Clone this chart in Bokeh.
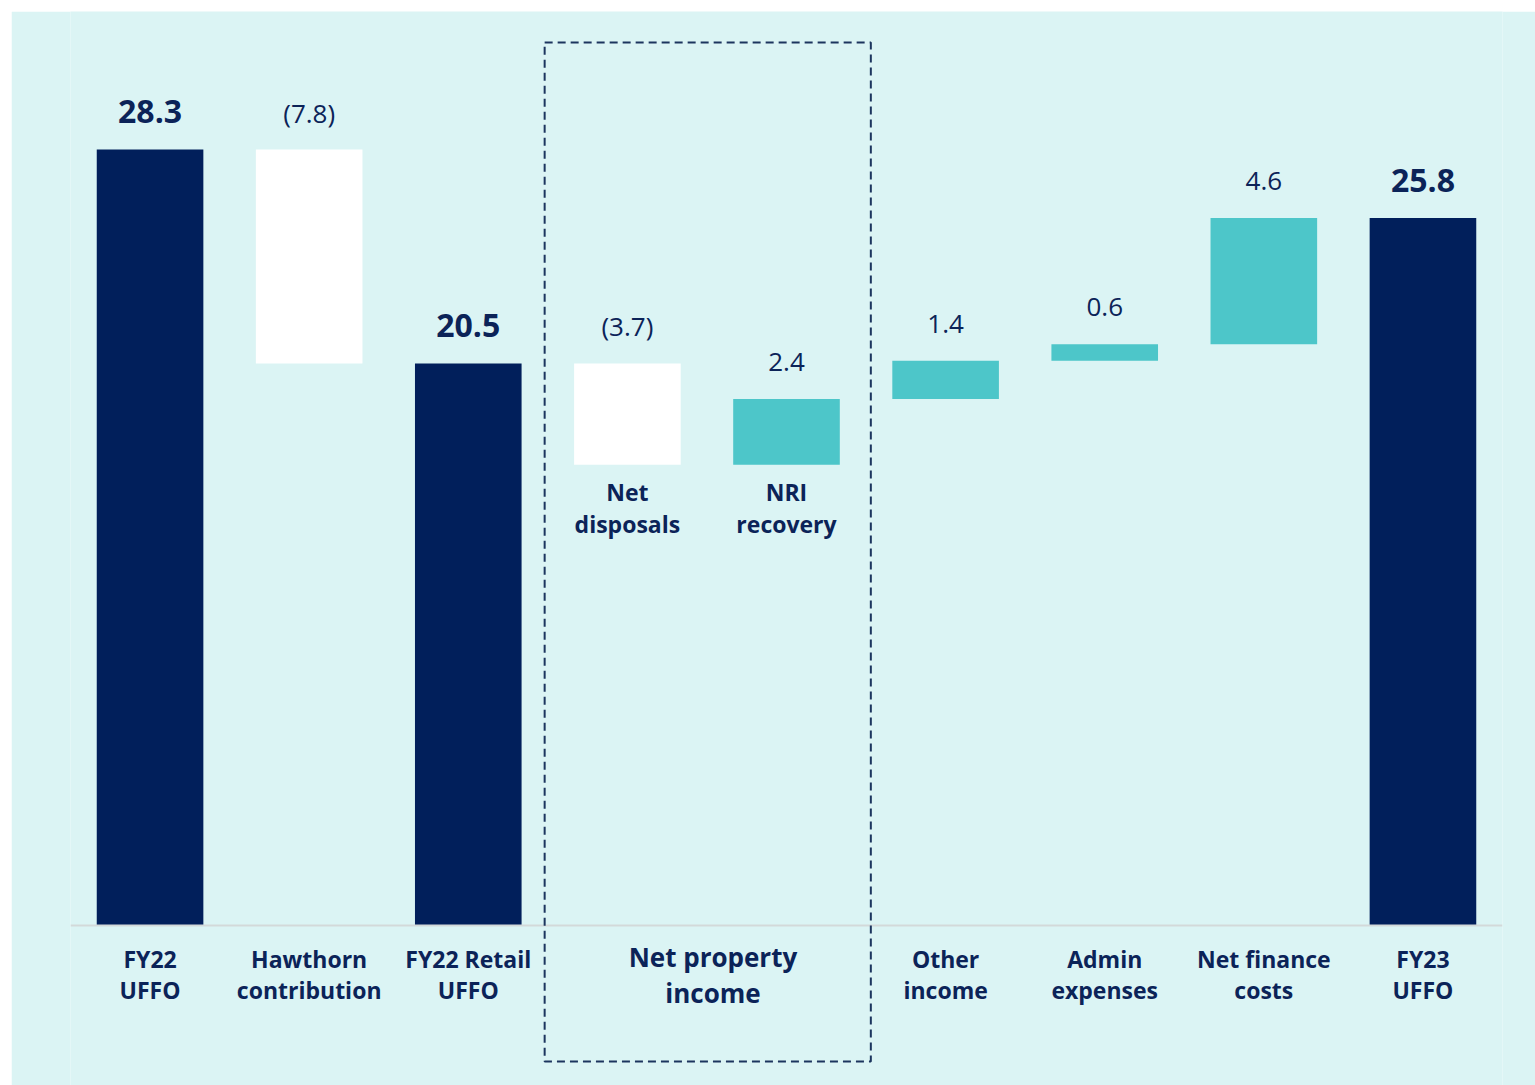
from bokeh.plotting import figure
from bokeh.models import Range1d, ColumnDataSource, BoxAnnotation, Span
from bokeh.core.properties import value
from bokeh.embed import file_html
from bokeh.resources import INLINE

# ---- data ----
categories = ["FY22\nUFFO", "Hawthorn\ncontribution", "FY22 Retail\nUFFO", "Net\ndisposals",
              "NRI\nrecovery", "Other\nincome", "Admin\nexpenses", "Net finance\ncosts", "FY23\nUFFO"]
kinds = ["total", "change", "total", "change", "change", "change", "change", "change", "total"]
values = [28.3, -7.8, 20.5, -3.7, 2.4, 1.4, 0.6, 4.6, 25.8]
value_labels = ["28.3", "(7.8)", "20.5", "(3.7)", "2.4", "1.4", "0.6", "4.6", "25.8"]
group_label = "Net property\nincome"
group_members = [3, 4]

# ---- styles ----
BG = "#dbf4f4"
NAVY = "#011f5b"
TEAL = "#4dc6c9"
WHITE = "#ffffff"
TEXT = "#0b2358"
FONT = value("Open Sans")

# ---- waterfall geometry from data ----
xs = list(range(len(categories)))
lows, highs, colors = [], [], []
level = 0.0
for k, v in zip(kinds, values):
    if k == "total":
        lo, hi = 0.0, v
        level = v
        colors.append(NAVY)
    else:
        start, end = level, level + v
        lo, hi = min(start, end), max(start, end)
        level = end
        colors.append(TEAL if v > 0 else WHITE)
    lows.append(lo)
    highs.append(hi)

p = figure(width=1524, height=1074, x_range=Range1d(-0.5, 8.5), y_range=Range1d(-5.835, 33.333),
           output_backend="svg", toolbar_location=None, x_axis_location=None, y_axis_location=None,
           min_border_left=59, min_border_right=33, min_border_top=0, min_border_bottom=0,
           background_fill_color=BG, border_fill_color=BG, outline_line_color=None,
           margin=(11, 0, 0, 11))
p.grid.visible = False

bars = ColumnDataSource(dict(x=xs, bottom=lows, top=highs, color=colors))
p.vbar(x="x", bottom="bottom", top="top", width=0.67, fill_color="color", line_color=None, source=bars)

# baseline
p.add_layout(Span(location=0, dimension="width", line_color="#d3d9d9", line_width=2))

# dashed group box
p.add_layout(BoxAnnotation(left=2.48, right=4.53, top=32.2, bottom=-4.96, fill_alpha=0,
                           line_color="#1c355e", line_alpha=1.0, line_width=2, line_dash="8 5"))

# value labels
tot = [i for i, k in enumerate(kinds) if k == "total"]
chg = [i for i, k in enumerate(kinds) if k != "total"]
p.text(x=[xs[i] for i in tot], y=[highs[i] for i in tot], text=[value_labels[i] for i in tot],
       text_align="center", text_baseline="alphabetic", y_offset=-38, text_font=FONT,
       text_font_size="32px", text_font_style="bold", text_color=TEXT)
p.text(x=[xs[i] for i in chg], y=[highs[i] for i in chg], text=[value_labels[i] for i in chg],
       text_align="center", text_baseline="alphabetic", y_offset=-37, text_font=FONT,
       text_font_size="26px", text_color=TEXT)

# category labels
outer = [i for i in xs if i not in group_members]
p.text(x=[xs[i] for i in outer], y=[0] * len(outer), text=[categories[i] for i in outer],
       text_align="center", text_baseline="middle", y_offset=49, text_font=FONT,
       text_font_size="23px", text_font_style="bold", text_color=TEXT, text_line_height=0.96)
p.text(x=[xs[i] for i in group_members], y=[lows[i] for i in group_members],
       text=[categories[i] for i in group_members],
       text_align="center", text_baseline="middle", y_offset=43, text_font=FONT,
       text_font_size="23px", text_font_style="bold", text_color=TEXT, text_line_height=1.02)
gx = sum(xs[i] for i in group_members) / len(group_members)
p.text(x=[gx], y=[0], text=[group_label], text_align="center", text_baseline="middle",
       y_offset=49, x_offset=6, text_font=FONT, text_font_size="26px", text_font_style="bold",
       text_color=TEXT, text_line_height=1.0)

open("out.html", "w").write(file_html(p, INLINE))
